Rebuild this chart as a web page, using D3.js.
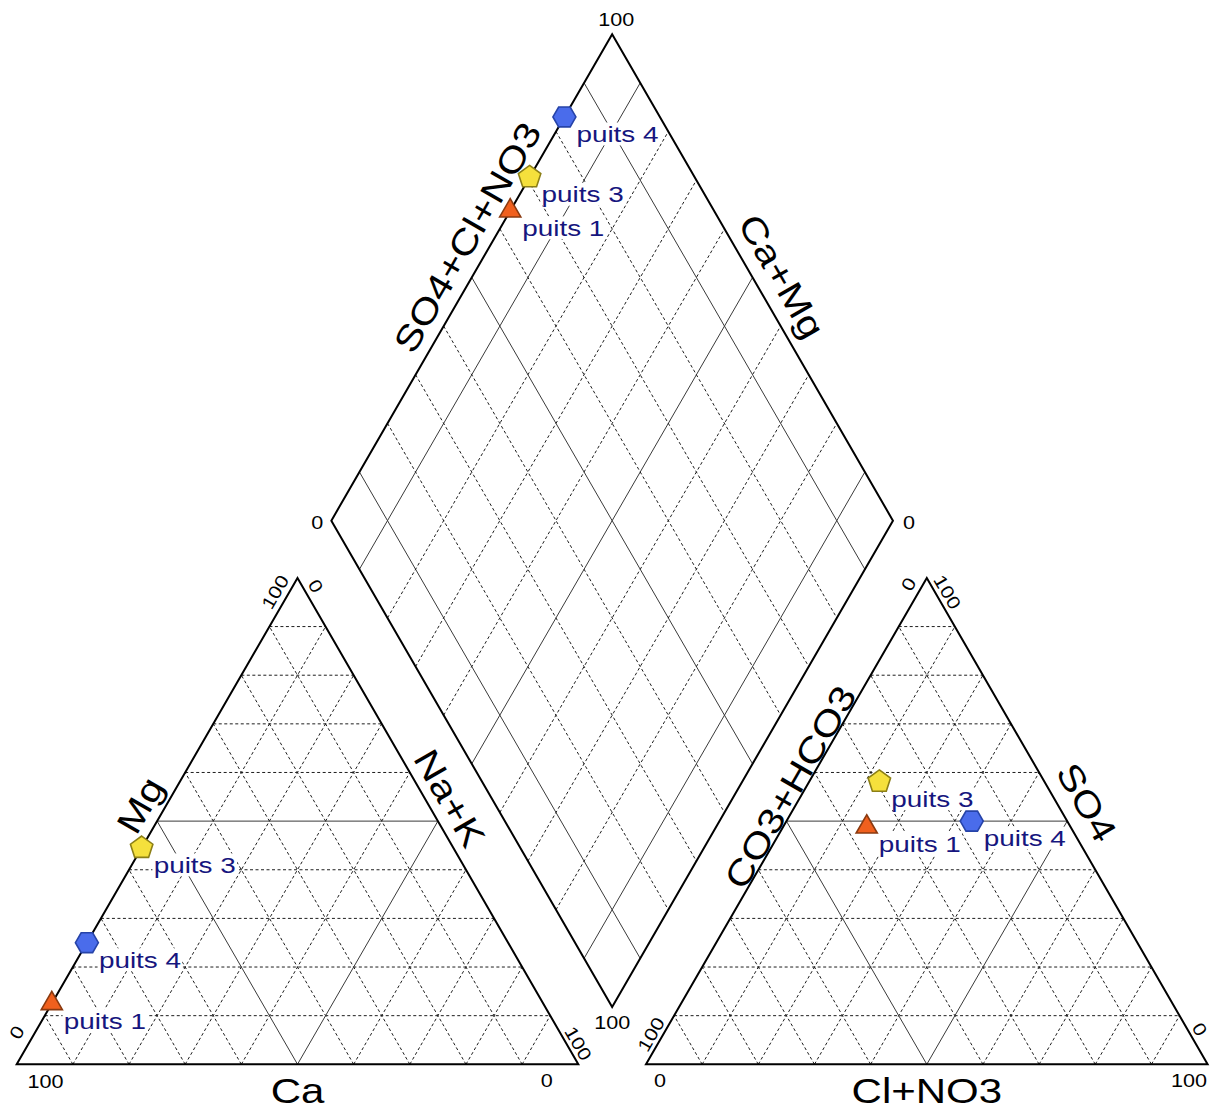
<!DOCTYPE html>
<html><head><meta charset="utf-8">
<script src="https://cdn.jsdelivr.net/npm/d3@7"></script>
<style>
body{margin:0;background:#fff;}
text{font-family:Arial,"Liberation Sans",sans-serif;}
</style>
</head><body><svg id="c" width="1214" height="1113"></svg>
<script>
// ---------------- DATA ----------------
const samples  = ["puits 1", "puits 3", "puits 4"];
const caPct    = [87.5, 55.5, 75.0];   // cations
const mgPct    = [12.5, 44.5, 25.0];
const naKPct   = [0.0, 0.0, 0.0];
const hco3Pct  = [36.3, 29.4, 17.0];   // anions
const so4Pct   = [48.8, 58.1, 50.0];
const clPct    = [14.9, 12.5, 33.0];
const gridSteps = [10, 20, 30, 40, 50, 60, 70, 80, 90];
const tickLabels = ["0", "100"];
const cationTitles = ["Ca", "Mg", "Na+K"];
const anionTitles  = ["Cl+NO3", "SO4", "CO3+HCO3"];
const diamondTitles = ["SO4+Cl+NO3", "Ca+Mg"];
const markerShapes = ["triangle", "pentagon", "hexagon"];

// ---------------- LAYOUT ----------------
const svg = d3.select("#c");
const side = 561.6, x0 = 16.7, baseY = 1064.3, gap = 67.7;
const h = side * Math.sqrt(3) / 2;
const STRETCH = 1.2;

const sx = d3.scaleLinear().domain([0, 100]).range([0, side]);
const sy = d3.scaleLinear().domain([0, 100]).range([0, h]);
const fr = d3.scaleLinear().domain([0, 100]).range([0, 1]);

function ternary(ox) {
  // a: bottom-left, b: top, c: bottom-right (percent)
  return (a, b, c) => [ox + sx(c) + sx(b) / 2, baseY - sy(b)];
}
const catP = ternary(x0);
const anP = ternary(x0 + side + gap);

const dB = [x0 + side + gap / 2, 1007];
const dL = [dB[0] - side / 2, dB[1] - h];
const dR = [dB[0] + side / 2, dB[1] - h];
const dT = [dB[0], dB[1] - 2 * h];
function dia(na, an) {
  const u = fr(na), v = fr(an);
  return [dB[0] + (1 - u) * (dL[0] - dB[0]) + v * (dR[0] - dB[0]),
          dB[1] + (1 - u) * (dL[1] - dB[1]) + v * (dR[1] - dB[1])];
}

const gGrid = svg.append("g");
const line = d3.line();
function seg(p, q, solid) {
  gGrid.append("path").attr("d", line([p, q]))
    .attr("fill", "none")
    .attr("stroke", solid ? "#3a3a3a" : "#1e1e1e")
    .attr("stroke-width", 1)
    .attr("stroke-dasharray", solid ? null : "3,2.5");
}

// triangle grids
[catP, anP].forEach(P => {
  gridSteps.forEach(f => {
    const s = f === 50;
    seg(P(100 - f, f, 0), P(0, f, 100 - f), s);
    seg(P(f, 0, 100 - f), P(f, 100 - f, 0), s);
    seg(P(100 - f, 0, f), P(0, 100 - f, f), s);
  });
});
// diamond grid
gridSteps.forEach(f => {
  const s = (f === 10 || f === 50 || f === 90);
  seg(dia(f, 0), dia(f, 100), s);
  seg(dia(0, f), dia(100, f), s);
});

// outlines
const gOut = svg.append("g").attr("fill", "none").attr("stroke", "#000").attr("stroke-width", 2).attr("stroke-linejoin", "miter");
[catP, anP].forEach(P => {
  gOut.append("path").attr("d", line([P(100, 0, 0), P(0, 0, 100), P(0, 100, 0)]) + "Z");
});
gOut.append("path").attr("d", line([dB, dR, dT, dL]) + "Z");

// text helper
function txt(str, x, y, size, rot, opts = {}) {
  const g = svg.append("g").attr("transform", `translate(${x},${y}) rotate(${rot}) scale(${opts.stretch || STRETCH},1)`);
  const t = g.append("text").text(str)
    .attr("font-size", size)
    .attr("text-anchor", opts.anchor || "middle")
    .attr("dy", opts.dy !== undefined ? opts.dy : "0.36em")
    .attr("fill", opts.fill || "#000");
  return {g, t};
}

// axis titles
const TS = 35;
const cA = catP(100, 0, 0), cB = catP(0, 0, 100), cC = catP(0, 100, 0);
const aA = anP(100, 0, 0), aB = anP(0, 0, 100), aC = anP(0, 100, 0);
txt(cationTitles[0], (cA[0] + cB[0]) / 2, baseY + 26, TS, 0);
txt(cationTitles[1], 140, 805, TS, -60);
txt(cationTitles[2], 450, 798, TS, 60);
txt(anionTitles[0], (aA[0] + aB[0]) / 2, baseY + 26, TS, 0);
txt(anionTitles[1], 1087, 802, TS, 60);
txt(anionTitles[2], 790, 787, TS, -60);
txt(diamondTitles[0], 467, 237, TS, -60);
txt(diamondTitles[1], 782, 276, TS, 60);

// tick labels
const TK = 18;
const [t0, t100] = tickLabels;
txt(t100, cA[0] + 28.8, cA[1] + 17, TK, 0);
txt(t0,   cB[0] - 31.6, cB[1] + 16, TK, 0);
txt(t0,   cA[0], cA[1] - 32, TK, -60);
txt(t100, cC[0] - 22.5, cC[1] + 14, TK, -60);
txt(t0,   cC[0] + 18.3, cC[1] + 8, TK, 60);
txt(t100, cB[0], cB[1] - 21, TK, 60);
txt(t0,   aC[0] - 18.5, aC[1] + 6, TK, -60);
txt(t100, aC[0] + 20.7, aC[1] + 14, TK, 60);
txt(t100, aA[0] + 4.8, aA[1] - 30, TK, -60);
txt(t0,   aA[0] + 14, aA[1] + 16.5, TK, 0);
txt(t0,   aB[0] - 7.6, aB[1] - 35, TK, 60);
txt(t100, aB[0] - 18.6, aB[1] + 16.5, TK, 0);
txt(t100, dT[0] + 4, dT[1] - 15, TK, 0);
txt(t0,   dL[0] - 14, dL[1] + 2, TK, 0);
txt(t0,   dR[0] + 16, dR[1] + 2, TK, 0);
txt(t100, dB[0], dB[1] + 15.5, TK, 0);

// points
const pts = [];
samples.forEach((s, i) => {
  pts.push({s, i, p: catP(caPct[i], mgPct[i], naKPct[i])});
  pts.push({s, i, p: anP(hco3Pct[i], so4Pct[i], clPct[i])});
  pts.push({s, i, p: dia(naKPct[i], so4Pct[i] + clPct[i])});
});

// labels with white background
pts.forEach(d => {
  const {g, t} = txt(d.s, d.p[0] + 12, d.p[1] + 25, 22.5, 0, {anchor: "start", dy: 0, fill: "#16167e", stretch: 1.24});
  const bb = t.node().getBBox();
  g.insert("rect", "text").attr("x", bb.x - 1).attr("y", bb.y + 1)
    .attr("width", bb.width + 2).attr("height", bb.height - 2).attr("fill", "#fff");
});

const styles = {
  triangle: {fill: "#F0601E", stroke: "#8a3a10"},
  pentagon: {fill: "#F5E03C", stroke: "#8c7f16"},
  hexagon:  {fill: "#4A6CEB", stroke: "#2643a8"}
};
function shape(kind) {
  let n, r, a0;
  if (kind === "triangle") { n = 3; r = 12.2; a0 = -Math.PI / 2; }
  else if (kind === "pentagon") { n = 5; r = 11.8; a0 = -Math.PI / 2; }
  else { n = 6; r = 11.5; a0 = 0; }
  const v = d3.range(n).map(k => [r * Math.cos(a0 + 2 * Math.PI * k / n), r * Math.sin(a0 + 2 * Math.PI * k / n)]);
  return line(v) + "Z";
}
pts.forEach(d => {
  const kind = markerShapes[d.i];
  svg.append("path").attr("d", shape(kind))
    .attr("transform", `translate(${d.p[0]},${d.p[1]})`)
    .attr("fill", styles[kind].fill).attr("stroke", styles[kind].stroke).attr("stroke-width", 1.6);
});
</script></body></html>
